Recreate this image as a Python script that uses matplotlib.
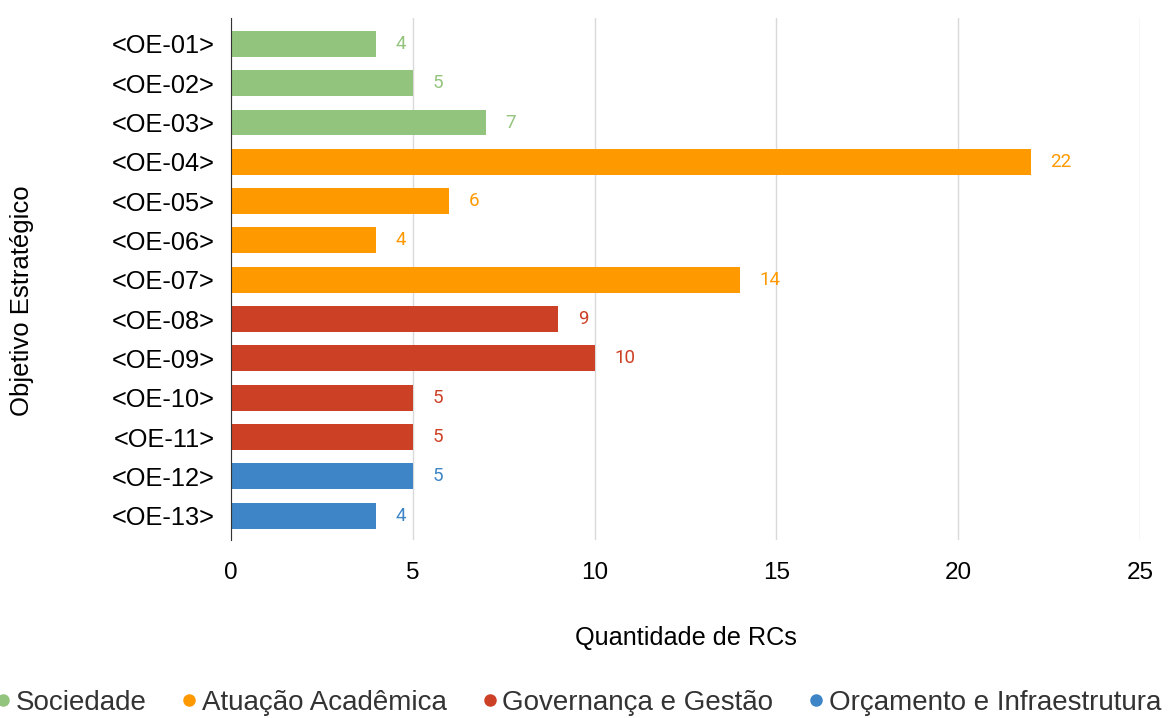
import matplotlib
matplotlib.use("Agg")
import matplotlib.pyplot as plt
from matplotlib.lines import Line2D

# data
objetivos = ["<OE-01>", "<OE-02>", "<OE-03>", "<OE-04>", "<OE-05>", "<OE-06>", "<OE-07>",
             "<OE-08>", "<OE-09>", "<OE-10>", "<OE-11>", "<OE-12>", "<OE-13>"]
qtd_rcs = [4, 5, 7, 22, 6, 4, 14, 9, 10, 5, 5, 5, 4]
perspectiva = ["Sociedade", "Sociedade", "Sociedade",
               "Atuação Acadêmica", "Atuação Acadêmica", "Atuação Acadêmica", "Atuação Acadêmica",
               "Governança e Gestão", "Governança e Gestão", "Governança e Gestão", "Governança e Gestão",
               "Orçamento e Infraestrutura", "Orçamento e Infraestrutura"]
grupos = ["Sociedade", "Atuação Acadêmica", "Governança e Gestão", "Orçamento e Infraestrutura"]
x_ticks = [0, 5, 10, 15, 20, 25]

cores = {"Sociedade": "#93c47d",
         "Atuação Acadêmica": "#ff9900",
         "Governança e Gestão": "#cc4125",
         "Orçamento e Infraestrutura": "#3d85c6"}

plt.rcParams['font.family'] = ['Liberation Sans', 'DejaVu Sans']

fig = plt.figure(figsize=(11.69, 7.18), dpi=100)
ax = fig.add_axes([0.1976, 0.2479, 0.7776, 0.7271])

pos = list(range(len(objetivos)))
bar_colors = [cores[p] for p in perspectiva]
ax.barh(pos, qtd_rcs, height=0.66, color=bar_colors, zorder=3)

for y, v, c in zip(pos, qtd_rcs, bar_colors):
    ax.annotate(str(v), (v, y), xytext=(14, 0), textcoords='offset points',
                ha='left', va='center', color=c, fontsize=13.5, family=['Roboto', 'DejaVu Sans'])

ax.set_ylim(12.62, -0.66)
ax.set_xlim(0, 25)
ax.set_yticks(pos)
ax.set_yticklabels(objetivos, fontsize=18.3)
ax.set_xticks(x_ticks)
ax.set_xticklabels([str(t) for t in x_ticks], fontsize=17.5)
ax.tick_params(axis='y', length=0, pad=12)
ax.tick_params(axis='x', length=0, pad=16)

ax.grid(axis='x', color='#d9d9d9', linewidth=1, zorder=0)
for s in ['top', 'right', 'bottom']:
    ax.spines[s].set_visible(False)
ax.spines['left'].set_color('#333333')
ax.spines['left'].set_zorder(4)

ax.set_xlabel("Quantidade de RCs", fontsize=18.2, labelpad=30)
ax.set_ylabel("Objetivo Estratégico", fontsize=18.5)
ax.yaxis.set_label_coords(-0.2166, 0.458)

handles = [Line2D([0], [0], marker='o', linestyle='', markersize=8,
                  markerfacecolor=cores[g], markeredgecolor=cores[g]) for g in grupos]
fig.legend(handles, grupos, loc='center', bbox_to_anchor=(0.495, 0.021), ncol=4,
           frameon=False, fontsize=20, handlelength=0.5, handletextpad=0.2,
           columnspacing=1.3, labelcolor='#333333', borderpad=0)

fig.savefig("out.png", dpi=100)
